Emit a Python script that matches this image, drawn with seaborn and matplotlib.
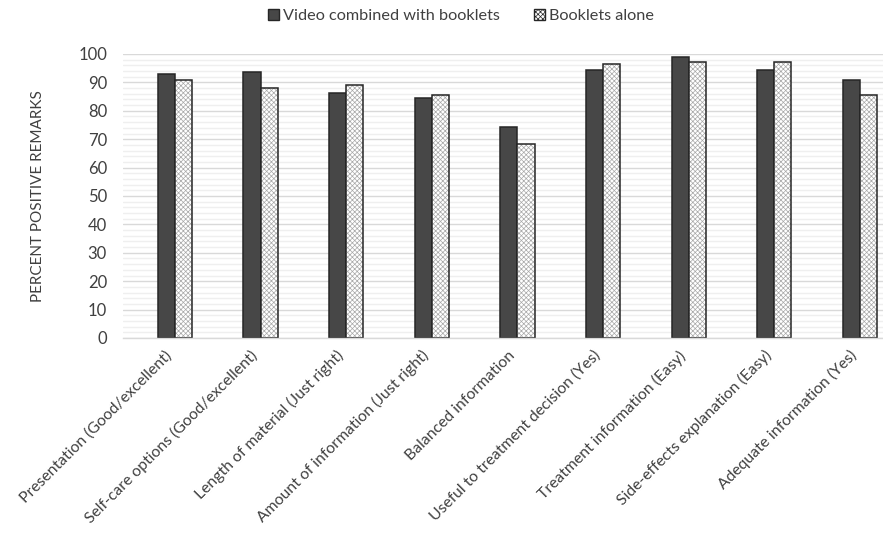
import matplotlib
matplotlib.use("Agg")
import matplotlib.pyplot as plt
import seaborn as sns
import pandas as pd
from matplotlib.patches import Patch
from matplotlib.ticker import MultipleLocator
from matplotlib.transforms import ScaledTranslation

categories = [
    "Presentation (Good/excellent)",
    "Self-care options (Good/excellent)",
    "Length of material (Just right)",
    "Amount of information (Just right)",
    "Balanced information",
    "Useful to treatment decision (Yes)",
    "Treatment information (Easy)",
    "Side-effects explanation (Easy)",
    "Adequate information (Yes)",
]
series_names = ["Video combined with booklets", "Booklets alone"]
video_values = [92.8, 93.6, 86.3, 84.5, 74.4, 94.5, 99.1, 94.5, 90.8]
booklet_values = [91.0, 88.2, 89.1, 85.5, 68.2, 96.4, 97.3, 97.3, 85.5]
yticks = list(range(0, 101, 10))

df = pd.DataFrame({
    "Item": categories * 2,
    "Group": [series_names[0]] * len(categories) + [series_names[1]] * len(categories),
    "Value": video_values + booklet_values,
})

sns.set_theme(style="white")
plt.rcParams["font.family"] = ["Lato", "DejaVu Sans"]
plt.rcParams["hatch.linewidth"] = 0.5

fig = plt.figure(figsize=(8.83, 5.35), dpi=100)
ax = fig.add_axes([123 / 883, 1 - 338 / 535, (883 - 123) / 883, (338 - 54) / 535])

dark = "#474747"
edge = "#262626"
hatch_col = "#a8a8a8"
sns.barplot(data=df, x="Item", y="Value", hue="Group", hue_order=series_names,
            palette=[dark, "white"], width=0.4, ax=ax, legend=False,
            edgecolor=edge, linewidth=1.1, saturation=1)

for bar in ax.containers[1]:
    bar.set_hatch("xxxxxxx")
    bar._hatch_color = matplotlib.colors.to_rgba(hatch_col)

ax.set_xlim(-0.607, 8.27)
ax.set_ylim(0, 100)
ax.set_yticks(yticks)
ax.yaxis.set_minor_locator(MultipleLocator(2))
ax.grid(axis="y", which="major", color="#d9d9d9", linewidth=1.0, zorder=0)
ax.grid(axis="y", which="minor", color="#efefef", linewidth=1.0, zorder=0)
ax.set_axisbelow(True)
for s in ["top", "right", "left"]:
    ax.spines[s].set_visible(False)
ax.spines["bottom"].set_color("#d9d9d9")
ax.spines["bottom"].set_linewidth(1.0)

ax.tick_params(axis="y", which="both", length=0, labelsize=12, labelcolor="#404040", pad=11.5)
ax.tick_params(axis="x", length=0, labelsize=11.3, labelcolor="#404040", pad=11)
ax.set_xticks(range(len(categories)))
ax.set_xticklabels(categories, rotation=45, ha="right", va="center", rotation_mode="anchor")
shift = ScaledTranslation(-5 / 100, 0, fig.dpi_scale_trans)
for lab in ax.get_xticklabels():
    lab.set_transform(lab.get_transform() + shift)
ax.set_xlabel("")
ax.set_ylabel("PERCENT POSITIVE REMARKS", fontsize=11, color="#404040", labelpad=24)

handles = [
    Patch(facecolor=dark, edgecolor=edge, linewidth=1.0, label=series_names[0]),
    Patch(facecolor="white", edgecolor=edge, linewidth=1.0, hatch="xxxxxxx", label=series_names[1]),
]
leg = fig.legend(handles=handles, loc="center", bbox_to_anchor=(461 / 883, 1 - 16 / 535), ncol=2,
                 frameon=False, fontsize=11.7, handlelength=0.7, handleheight=0.7,
                 handletextpad=0.25, columnspacing=2.1, labelcolor="#404040")

fig.savefig("out.png", dpi=100)
